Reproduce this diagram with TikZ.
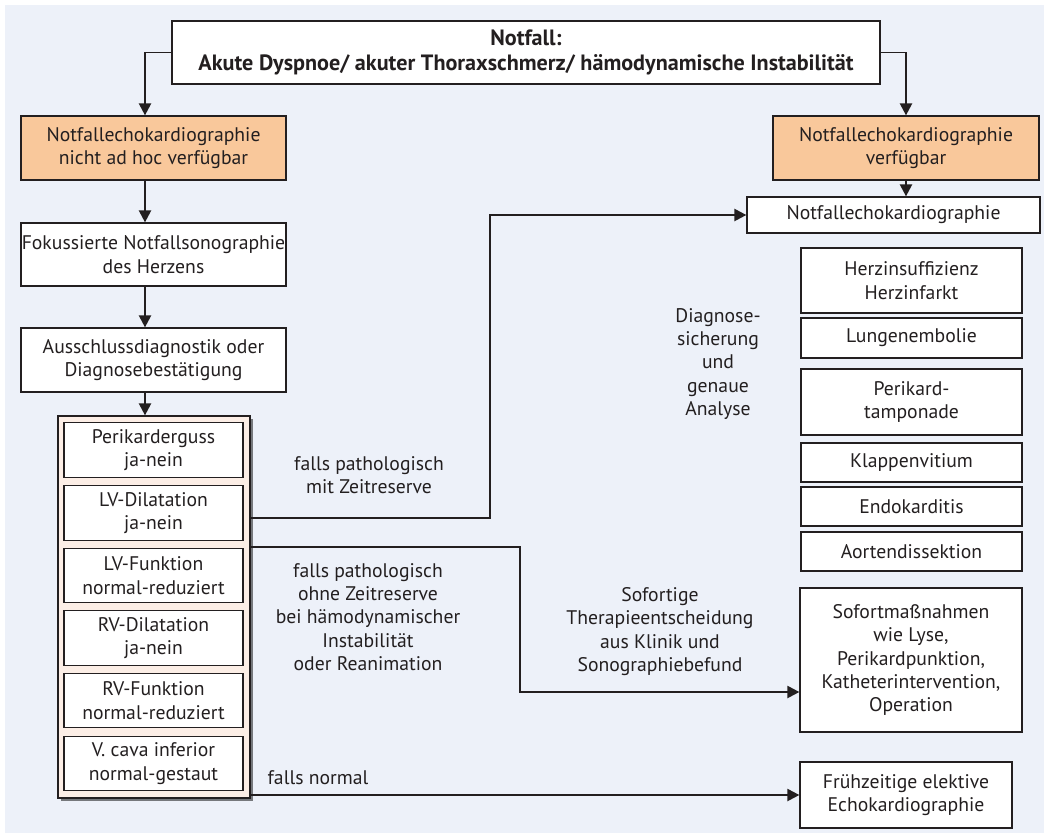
\documentclass[tikz,border=0pt]{standalone}
\usepackage{fontspec}
\setmainfont{PT Sans}
\usepackage{tikz}
\usepackage{xcolor}
\usetikzlibrary{arrows.meta,shadows}
\definecolor{bgblue}{HTML}{EDF1F9}
\definecolor{orangefill}{HTML}{F9C89B}
\definecolor{peach}{HTML}{FCEEE6}
\definecolor{ink}{HTML}{231F20}
\tikzset{
  box/.style={ % white step of the algorithm
    draw=ink, thick, rectangle, fill=white, align=center,
    inner sep=0pt, text=ink, font=\fontsize{11.2}{13.3}\selectfont
  },
  orangebox/.style={ % echo available or not
    box, fill=orangefill
  },
  itembox/.style={ % one finding inside the panel
    box, minimum width=3.58cm, minimum height=1.09cm
  },
  panel/.style={ % frame round the findings
    draw=ink, thick, fill=peach,
    minimum width=3.84cm, minimum height=7.64cm,
    drop shadow={shadow xshift=0.05cm, shadow yshift=-0.05cm, fill=black, opacity=0.5}
  },
  note/.style={ % free text next to a connector
    align=center, text=ink, inner sep=0pt, font=\fontsize{11.2}{13.3}\selectfont
  },
  flow/.style={ % connector
    ->, draw=ink, thick
  }
}

\begin{document}
\begin{tikzpicture}[
      >={Triangle[length=6.8pt,width=7pt]}
    ]
    \useasboundingbox (0,0) rectangle (20.98,-16.76);
    \fill[bgblue] (0.1,-0.1) rectangle (20.88,-16.66);

    % left column
    \node[box, minimum width=14.16cm, minimum height=1.26cm,
      font=\bfseries\fontsize{12.6}{14.2}\selectfont] (notfall) at (10.52,-1.05)
      {Notfall:\\Akute Dyspnoe/ akuter Thoraxschmerz/ hämodynamische Instabilität};
    \node[orangebox, minimum width=5.30cm, minimum height=1.28cm] (adhocno) at (3.07,-2.96)
      {Notfallechokardiographie\\nicht ad hoc verfügbar};
    \node[box, minimum width=5.30cm, minimum height=1.26cm] (fokus) at (3.07,-5.09)
      {Fokussierte Notfallsonographie\\des Herzens};
    \node[box, minimum width=5.30cm, minimum height=1.28cm] (aussch) at (3.07,-7.20)
      {Ausschlussdiagnostik oder\\Diagnosebestätigung};
    \node[panel] (panel) at (3.08,-12.14) {};
    \node[itembox] (perik) at (3.07,-9.00) {Perikarderguss\\ja-nein};
    \node[itembox] (lvdil) at (3.07,-10.26) {LV-Dilatation\\ja-nein};
    \node[itembox] (lvfkt) at (3.07,-11.51) {LV-Funktion\\normal-reduziert};
    \node[itembox] (rvdil) at (3.07,-12.76) {RV-Dilatation\\ja-nein};
    \node[itembox] (rvfkt) at (3.07,-14.01) {RV-Funktion\\normal-reduziert};
    \node[itembox] (vcava) at (3.07,-15.27) {V. cava inferior\\normal-gestaut};

    % right column
    \node[orangebox, minimum width=5.32cm, minimum height=1.28cm] (adhocyes) at (18.12,-2.96)
      {Notfallechokardiographie\\verfügbar};
    \node[box, minimum width=5.86cm, minimum height=0.72cm] (echo) at (17.87,-4.30)
      {Notfallechokardiographie};
    \node[box, minimum width=4.42cm, minimum height=1.30cm] (herz) at (18.23,-5.61)
      {Herzinsuffizienz\\Herzinfarkt};
    \node[box, minimum width=4.42cm, minimum height=0.80cm] (lunge) at (18.23,-6.76) {Lungenembolie};
    \node[box, minimum width=4.42cm, minimum height=1.32cm] (tamp) at (18.23,-8.04) {Perikard-\\tamponade};
    \node[box, minimum width=4.42cm, minimum height=0.78cm] (klappe) at (18.23,-9.25) {Klappenvitium};
    \node[box, minimum width=4.42cm, minimum height=0.78cm] (endo) at (18.23,-10.13) {Endokarditis};
    \node[box, minimum width=4.42cm, minimum height=0.78cm] (aorta) at (18.23,-11.03) {Aortendissektion};
    \node[box, minimum width=4.44cm, minimum height=2.88cm] (sofort) at (18.22,-13.20)
      {Sofortmaßnahmen\\wie Lyse,\\Perikardpunktion,\\Katheterintervention,\\Operation};
    \node[box, minimum width=4.24cm, minimum height=1.32cm] (frueh) at (18.12,-15.90)
      {Frühzeitige elektive\\Echokardiographie};

    % texts on the way
    \node[note] (mitzeit) at (7.38,-9.50) {falls pathologisch\\mit Zeitreserve};
    \node[note] (ohnezeit) at (7.36,-12.34)
      {falls pathologisch\\ohne Zeitreserve\\bei hämodynamischer\\Instabilität\\oder Reanimation};
    \node[note] (therapie) at (13.20,-12.63)
      {Sofortige\\Therapieentscheidung\\aus Klinik und\\Sonographiebefund};
    \node[note] (sicherung) at (14.36,-7.28) {Diagnose-\\sicherung\\und\\genaue\\Analyse};
    \node[note] (normal) at (6.36,-15.56) {falls normal};

    \coordinate (axisL) at (2.90,0);
    \draw[flow] (notfall.west) -| (adhocno.north -| axisL);
    \draw[flow] (notfall.east) -| (adhocyes.north);
    \draw[flow] (adhocno.south -| axisL) -- (fokus.north -| axisL);
    \draw[flow] (fokus.south -| axisL) -- (aussch.north -| axisL);
    \draw[flow] (aussch.south -| axisL) -- (panel.north -| axisL);
    \draw[flow] (adhocyes.south) -- (adhocyes.south |- echo.north);

    \draw[flow] (panel.east |- 0,-10.36) -- (9.80,-10.36) |- (echo);
    \draw[flow] (panel.east |- 0,-10.94) -- (10.40,-10.94) |- ([yshift=-0.64cm]sofort.west);
    \draw[flow] (panel.east |- frueh) -- (frueh);
  \end{tikzpicture}
\end{document}
